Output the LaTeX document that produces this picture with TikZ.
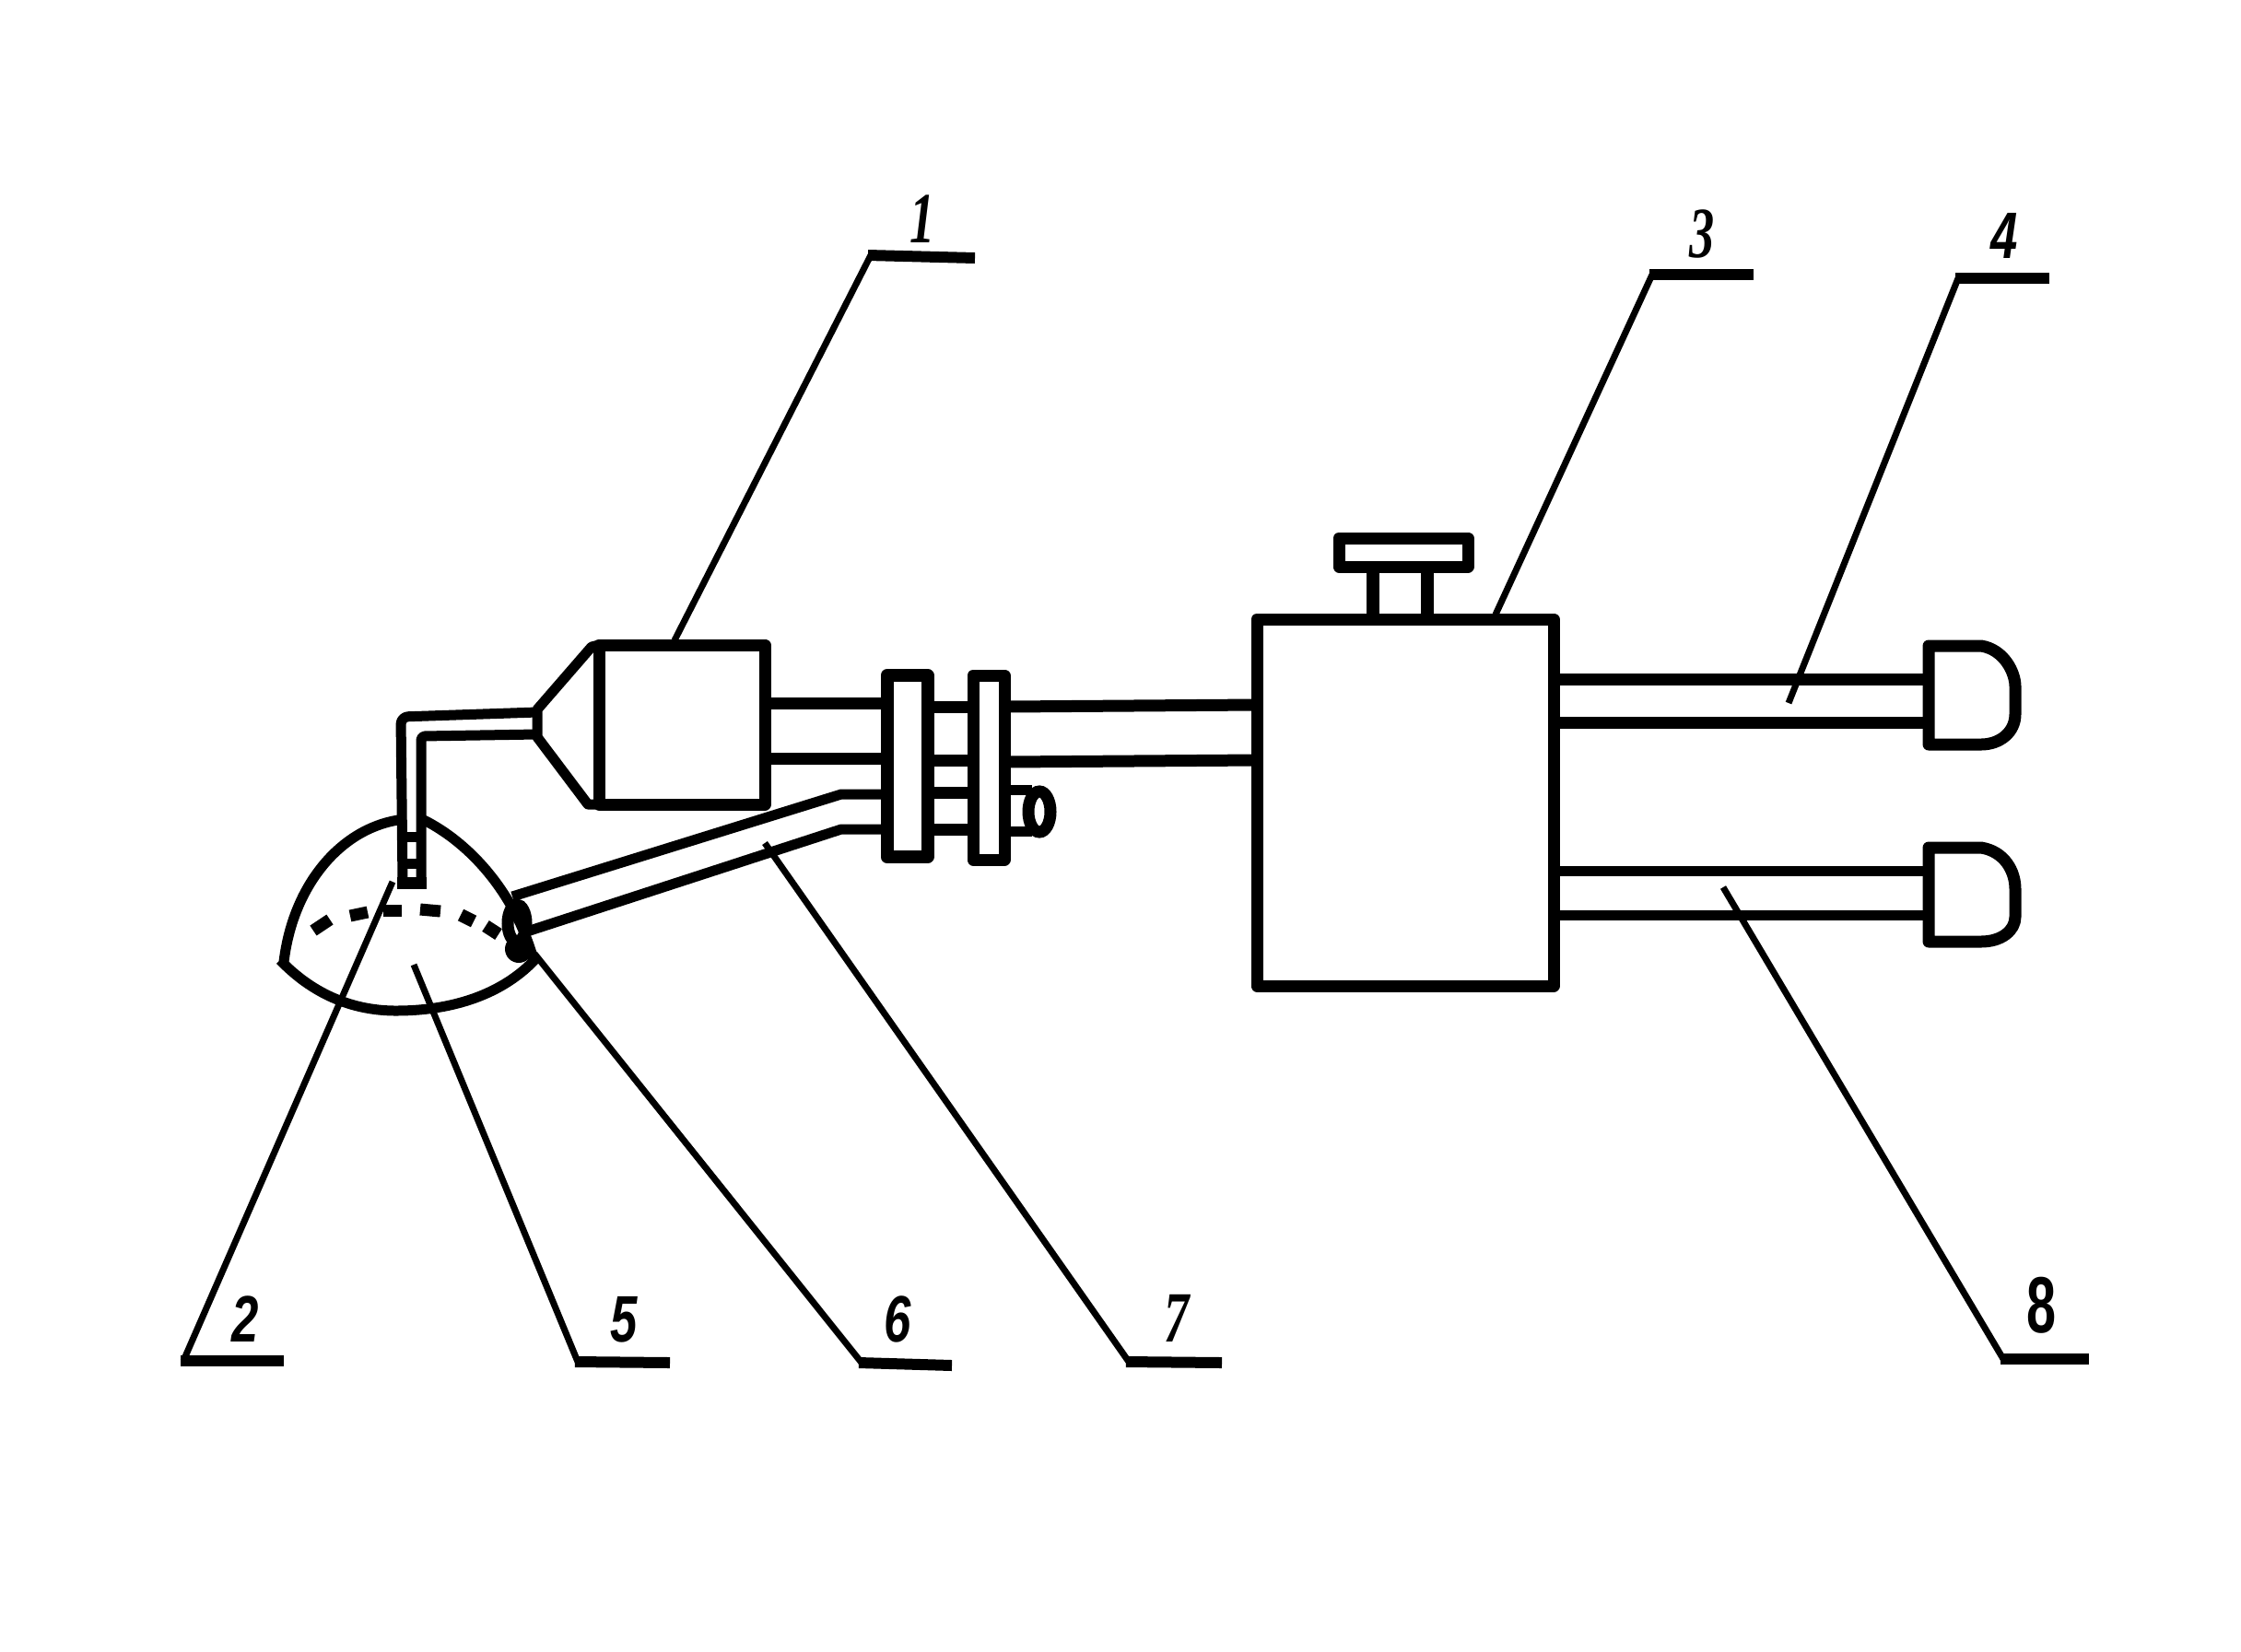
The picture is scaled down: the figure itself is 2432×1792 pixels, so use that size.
\documentclass[tikz,border=0pt]{standalone}
\usepackage{fontspec}
\setmainfont{Liberation Serif}
\setsansfont{Liberation Sans}
\tikzset{
  heavy/.style={line width=13pt,line cap=butt,line join=round},
  medium/.style={line width=11pt,line cap=butt,line join=round},
  lead/.style={line width=7pt,line cap=butt,line join=round},
  shelf/.style={line width=12pt,line cap=butt},
  num/.style={inner sep=0pt,xscale=.85,yscale=1.15,font=\sffamily\bfseries\itshape\fontsize{62}{62}\selectfont},
  thinnum/.style={inner sep=0pt,xscale=.8,yscale=1.15,font=\rmfamily\itshape\bfseries\fontsize{68}{68}\selectfont},
  uprnum/.style={inner sep=0pt,xscale=.9,yscale=1.35,font=\sffamily\bfseries\fontsize{64}{64}\selectfont}
}
\begin{document}
\begin{tikzpicture}[x=1pt,y=-1pt]
\useasboundingbox (0,0) rectangle (2432,1792);
% main bodies
\draw[heavy] (650,700) rectangle (830,873);
\draw[heavy] (1364,672) rectangle (1686,1070);
\draw[heavy] (1453,584) rectangle (1593,615);
\draw[line width=14pt] (1490,615) -- (1490,672);
\draw[line width=14pt] (1549,615) -- (1549,672);
% cone
\draw[medium] (650,700) -- (642,702) -- (583,770) -- (583,800) -- (638,873) -- (650,873);
% feed tube
\draw[medium,rounded corners=8pt] (583,773) -- (435,778) -- (437,958);
\draw[medium,rounded corners=4pt] (583,797) -- (457,799) -- (457,958);
\draw[medium] (433,908) -- (461,908);
\draw[medium] (433,937) -- (461,937);
\draw[heavy] (431,958) -- (463,958);
% dome
\draw[medium] (308,1044) .. controls (318,960) and (370,900) .. (432,890);
\draw[medium] (460,890) .. controls (510,915) and (560,970) .. (580,1045);
\draw[medium] (304,1042) .. controls (350,1090) and (400,1097) .. (430,1097) .. controls (490,1097) and (545,1080) .. (582,1040);
\draw[line width=13pt] (561,1002) ellipse [x radius=10,y radius=20];
\fill (563,1030) circle (15pt);
% dashed rim of the dome
\draw[line width=13pt] (340,1010) -- (358,998);
\draw[line width=13pt] (380,994) -- (399,990);
\draw[line width=13pt] (416,988) -- (436,988);
\draw[line width=13pt] (456,987) -- (478,989);
\draw[line width=14pt] (500,993) -- (514,1000);
\draw[line width=14pt] (527,1005) -- (541,1014);
% return pipe
\draw[medium] (556,973) -- (913,862) -- (960,862);
\draw[medium] (572,1011) -- (913,900) -- (960,900);
% tubes through flanges
\draw[heavy] (830,763) -- (960,763);
\draw[heavy] (830,823) -- (960,823);
\draw[heavy] (1010,767) -- (1053,767);
\draw[heavy] (1010,825) -- (1053,825);
\draw[heavy] (1010,860) -- (1053,860);
\draw[heavy] (1010,900) -- (1053,900);
\draw[heavy] (1093,767) -- (1364,765);
\draw[heavy] (1093,827) -- (1364,825);
% flanges
\draw[line width=14pt,line join=round] (962.5,733) rectangle (1006.5,930);
\draw[heavy] (1056,733) rectangle (1090,933);
% little ring behind the second flange
\draw[medium] (1093,857) -- (1120,857);
\draw[medium] (1093,902) -- (1120,902);
\draw[line width=13pt] (1128,881) ellipse [x radius=12,y radius=22];
% outlet pipes and caps
\draw[heavy] (1686,737) -- (2093,737);
\draw[heavy] (1686,784) -- (2093,784);
\draw[medium] (1686,945) -- (2093,945);
\draw[medium] (1686,993) -- (2093,993);
\draw[heavy] (2093,701) -- (2150,701) .. controls (2175,705) and (2187,730) .. (2187,745) -- (2187,775) .. controls (2187,795) and (2170,808) .. (2150,808) -- (2093,808) -- cycle;
\draw[heavy] (2093,920) -- (2150,920) .. controls (2175,924) and (2187,945) .. (2187,965) -- (2187,995) .. controls (2187,1010) and (2172,1022) .. (2150,1022) -- (2093,1022) -- cycle;
% label numbers
\node[thinnum] (n1) at (1001,238) {1};
\node[num] (n2) at (266,1432) {2};
\node[thinnum] (n3) at (1847,254) {3};
\node[num] (n4) at (2175,256) {4};
\node[num] (n5) at (677,1432) {5};
\node[num] (n6) at (974,1432) {6};
\node[thinnum] (n7) at (1277,1431) {7};
\node[uprnum] (n8) at (2215,1417) {8};
% leader ends
\coordinate (a1) at (732,695);
\coordinate (e1) at (945,277);
\coordinate (s1) at (1058,280);
\coordinate (a2) at (426,957);
\coordinate (e2) at (199,1477);
\coordinate (s2) at (308,1477);
\coordinate (a3) at (1623,667);
\coordinate (e3) at (1793,298);
\coordinate (s3) at (1903,298);
\coordinate (a4) at (1941,763);
\coordinate (e4) at (2125,302);
\coordinate (s4) at (2224,302);
\coordinate (a5) at (449,1047);
\coordinate (e5) at (627,1478);
\coordinate (s5) at (727,1479);
\coordinate (a6) at (580,1035);
\coordinate (e6) at (935,1479);
\coordinate (s6) at (1033,1482);
\coordinate (a7) at (830,915);
\coordinate (e7) at (1225,1478);
\coordinate (s7) at (1326,1479);
\coordinate (a8) at (1870,963);
\coordinate (e8) at (2174,1475);
\coordinate (s8) at (2267,1475);
\foreach \k in {1,...,8} {
  \draw[lead] (a\k) -- (e\k);
  \draw[shelf] (e\k) ++(-3,0) -- (s\k);
}
\end{tikzpicture}
\end{document}
